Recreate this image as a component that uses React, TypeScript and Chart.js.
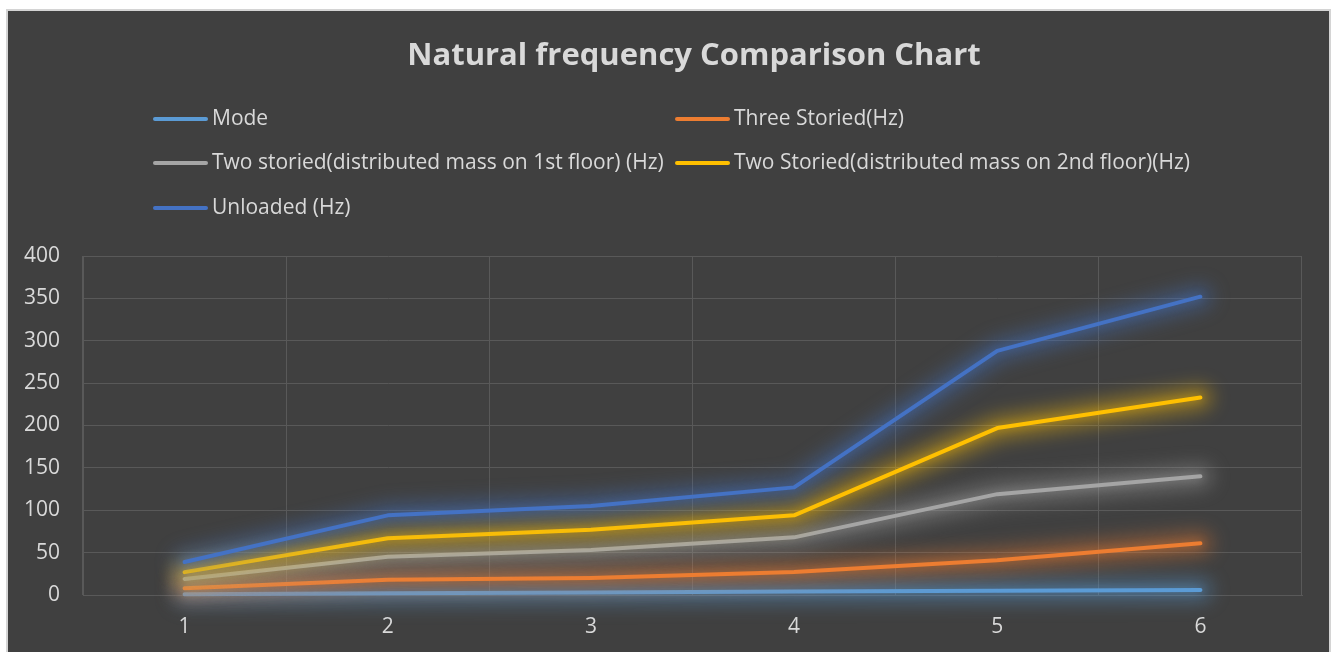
import { useEffect, useRef } from "react";
import { Chart, registerables } from "chart.js";

Chart.register(...registerables);

// Mode numbers on the x axis
const modes = ["1", "2", "3", "4", "5", "6"];

// Natural frequencies per configuration (Hz)
const modeValues = [1, 2, 3, 4, 5, 6];
const threeStoried = [8, 18, 20, 27, 41, 61];
const twoStoriedFirst = [19, 45, 53, 68, 119, 140];
const twoStoriedSecond = [27, 67, 77, 94, 197, 233];
const unloaded = [39, 94, 105, 127, 288, 352];

const seriesNames = [
  "Mode",
  "Three Storied(Hz)",
  "Two storied(distributed mass on 1st floor) (Hz)",
  "Two Storied(distributed mass on 2nd floor)(Hz)",
  "Unloaded (Hz)",
];
const seriesColors = ["#5B9BD5", "#ED7D31", "#A5A5A5", "#FFC000", "#4472C4"];
const seriesValues = [modeValues, threeStoried, twoStoriedFirst, twoStoriedSecond, unloaded];

const yTicks = [0, 50, 100, 150, 200, 250, 300, 350, 400];

const titleText = "Natural frequency Comparison Chart";
const textColor = "#D9D9D9";
const gridColor = "#595959";
const fontFamily = "'Open Sans', 'Noto Sans', sans-serif";

function rgba(hex: string, a: number) {
  const n = parseInt(hex.slice(1), 16);
  return `rgba(${(n >> 16) & 255}, ${(n >> 8) & 255}, ${n & 255}, ${a})`;
}

// Soft coloured glow around each series line: a blurred wide halo under the stroke
const glowPlugin = {
  id: "lineGlow",
  beforeDatasetDraw(chart: any, args: any) {
    const ctx = chart.ctx;
    const ds = chart.data.datasets[args.index];
    const pts = chart.getDatasetMeta(args.index).data;
    ctx.save();
    ctx.filter = "blur(9px)";
    ctx.strokeStyle = rgba(ds.borderColor, 0.4);
    ctx.lineWidth = 24;
    ctx.lineCap = "round";
    ctx.lineJoin = "round";
    ctx.beginPath();
    pts.forEach((p: any, k: number) => (k === 0 ? ctx.moveTo(p.x, p.y) : ctx.lineTo(p.x, p.y)));
    ctx.stroke();
    ctx.restore();
    ctx.save();
    ctx.shadowColor = rgba(ds.borderColor, 0.5);
    ctx.shadowBlur = 8;
  },
  afterDatasetDraw(chart: any) {
    chart.ctx.restore();
  },
};

// Title and two-column legend drawn above the plot
const headerPlugin = {
  id: "header",
  afterDraw(chart: any) {
    const ctx = chart.ctx;
    ctx.save();
    ctx.fillStyle = textColor;
    ctx.textAlign = "center";
    ctx.textBaseline = "middle";
    ctx.font = `bold 31px ${fontFamily}`;
    ctx.fillText(titleText, 686, 45);

    const cols = [145, 667];
    const rows = [108, 152, 197];
    ctx.font = `21px ${fontFamily}`;
    ctx.textAlign = "left";
    chart.data.datasets.forEach((ds: any, i: number) => {
      const x = cols[i % 2];
      const y = rows[Math.floor(i / 2)];
      ctx.strokeStyle = ds.borderColor;
      ctx.lineWidth = 4;
      ctx.lineCap = "round";
      ctx.beginPath();
      ctx.moveTo(x + 2, y);
      ctx.lineTo(x + 53, y);
      ctx.stroke();
      ctx.fillStyle = textColor;
      ctx.fillText(ds.label, x + 59, y);
    });
    ctx.restore();
  },
};

export default function App() {
  const canvasRef = useRef<HTMLCanvasElement | null>(null);

  useEffect(() => {
    document.body.style.margin = "0";
    const canvas = canvasRef.current;
    if (!canvas) return;
    const chart = new Chart(canvas, {
      type: "line",
      data: {
        labels: modes,
        datasets: seriesNames.map((name, i) => ({
          label: name,
          data: seriesValues[i],
          borderColor: seriesColors[i],
          backgroundColor: seriesColors[i],
          borderWidth: 4,
          borderCapStyle: "round",
          borderJoinStyle: "round",
          pointRadius: 0,
          tension: 0,
          clip: 40,
          order: seriesNames.length - i,
        })),
      },
      options: {
        responsive: false,
        animation: false,
        layout: { padding: { top: 245, right: 27, bottom: 12, left: 0 } },
        plugins: {
          legend: { display: false },
          title: { display: false },
          tooltip: { enabled: false },
        },
        scales: {
          x: {
            type: "category",
            offset: true,
            afterFit(scale: any) {
              scale.height = 45;
            },
            grid: { offset: true, color: gridColor, lineWidth: 1, drawTicks: false },
            border: { color: gridColor },
            ticks: { color: textColor, font: { family: fontFamily, size: 21 }, padding: 19 },
          },
          y: {
            min: 0,
            max: 400,
            afterBuildTicks(scale: any) {
              scale.ticks = yTicks.map((v) => ({ value: v }));
            },
            afterFit(scale: any) {
              scale.width = 75;
            },
            grid: { color: gridColor, lineWidth: 1, drawTicks: false },
            border: { color: gridColor },
            ticks: { color: textColor, font: { family: fontFamily, size: 21 }, padding: 23 },
          },
        },
      },
      plugins: [glowPlugin, headerPlugin],
    } as any);
    return () => chart.destroy();
  }, []);

  return (
    <div style={{ position: "relative", width: 1334, height: 652, background: "#ffffff", overflow: "hidden" }}>
      <div
        style={{
          position: "absolute",
          left: 6,
          top: 9,
          width: 1321,
          height: 641,
          background: "#404040",
          border: "2px solid #D4D4D4",
          borderBottom: "none",
        }}
      >
        <canvas ref={canvasRef} width={1321} height={641} style={{ display: "block" }} />
      </div>
    </div>
  );
}
